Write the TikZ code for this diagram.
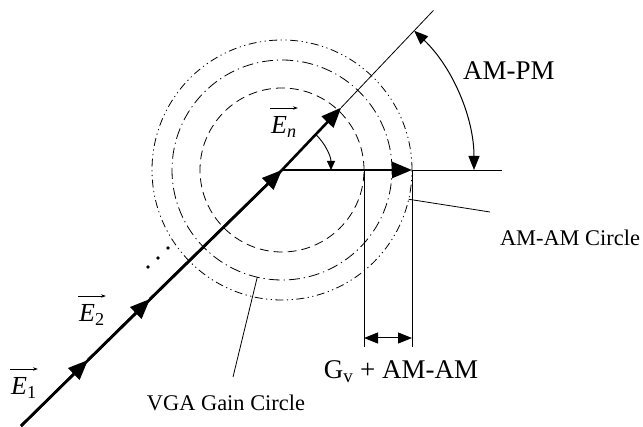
\documentclass[tikz,border=0pt]{standalone}
\usepackage{amsmath}
\usepackage{fontspec}
\setmainfont{Liberation Serif}
\usetikzlibrary{arrows.meta,calc}

\begin{document}
\begin{tikzpicture}[x=1pt,y=1pt, line join=round,
    vec/.style={line width=2.6pt, -{Triangle[length=20pt,width=16pt]}},
    vecline/.style={line width=2.6pt},
    thinln/.style={line width=0.8pt},
    bigtip/.style={line width=1pt, {Triangle[length=14pt,width=11pt]}-{Triangle[length=14pt,width=11pt]}},
    smalltip/.style={line width=0.9pt, -{Triangle[length=9pt,width=8pt]}},
    overarr/.style={line width=0.7pt, -{Stealth[length=5pt,width=3.5pt]}},
    innerc/.style={line width=0.8pt, dash pattern=on 9pt off 5pt},
    midc/.style={line width=0.8pt, dash pattern=on 11pt off 4pt on 1.2pt off 4pt},
    outerc/.style={line width=0.8pt, dash pattern=on 8pt off 3.5pt on 1.2pt off 3.5pt on 1.2pt off 3.5pt},
    biglabel/.style={font=\fontsize{27}{30}\selectfont},
    smalllabel/.style={font=\fontsize{22.4}{25}\selectfont},
    veclabel/.style={font=\fontsize{26}{30}\selectfont, inner sep=0pt, anchor=base west}]
        \useasboundingbox (0,0) rectangle (643,426);
        \def\rin{82} \def\rmid{110} \def\rout{130} \def\phase{46.5}
        % points of the vector chain
        \coordinate (C) at (282,256);
        \coordinate (S) at (21,0);
        \coordinate (A1) at (88,66);
        \coordinate (A2) at (150,127);
        \coordinate (T1) at ($(C)+(\phase:86)$);
        \coordinate (T2) at ($(C)+(\phase:220)$);
        \coordinate (H) at (412,256);
        \coordinate (R) at (502,256);
        % circles
        \draw[innerc] (C) circle[radius=\rin];
        \draw[midc] (C) circle[radius=\rmid];
        \draw[outerc] (C) circle[radius=\rout];
        % vectors
        \draw[vecline] (S) -- (C);
        \draw[vec] (S) -- (A1);
        \draw[vec] (A1) -- (A2);
        \draw[vec] (A2) -- (C);
        \draw[vec] (C) -- (T1);
        \draw[vec] (C) -- (H);
        \draw[thinln] (T1) -- (T2);
        \draw[thinln] (H) -- (R);
        \foreach \p in {(148,159),(158,168),(168,178)}
            \fill \p circle[radius=1.9];
        % angles
        \draw[smalltip] ($(C)+(\phase:49)$) arc[start angle=\phase, end angle=0, radius=49];
        \draw[bigtip] ($(C)+(\phase:192)$) arc[start angle=\phase, end angle=0, radius=192];
        % gain span
        \coordinate (V1) at (364,256); \coordinate (V1b) at (364,79);
        \coordinate (V2b) at (412,79);
        \coordinate (D1) at (364,88); \coordinate (D2) at (412,88);
        \draw[thinln] (V1) -- (V1b);
        \draw[thinln] (H) -- (V2b);
        \draw[bigtip] (D1) -- (D2);
        % vector labels
        \node[veclabel] (e1) at (11,31) {\textit{E}\textsubscript{1}};
        \node[veclabel] (e2) at (79,104) {\textit{E}\textsubscript{2}};
        \node[veclabel] (en) at (271,292) {\textit{E}\textsubscript{\textit{n}}};
        \foreach \e in {e1,e2,en}
            \draw[overarr] ($(\e.base west)+(-1,26)$) -- ($(\e.base east)+(1,26)$);
        % other labels
        \node[biglabel] (ampm) at (509,355) {AM-PM};
        \node[biglabel] (gv) at (401,54) {G\textsubscript{v} + AM-AM};
        \node[smalllabel] (vga) at (226,23) {VGA Gain Circle};
        \node[smalllabel] (amam) at (570,188) {AM-AM Circle};
        % leaders
        \coordinate (vgaTail) at (233,49);
        \coordinate (vgaHead) at ($(C)+(257:\rmid)$);
        \coordinate (amamTail) at (490,214);
        \coordinate (amamHead) at ($(C)+(-13:\rout)$);
        \draw[thinln] (vgaTail) -- (vgaHead);
        \draw[thinln] (amamTail) -- (amamHead);
\end{tikzpicture}
\end{document}
